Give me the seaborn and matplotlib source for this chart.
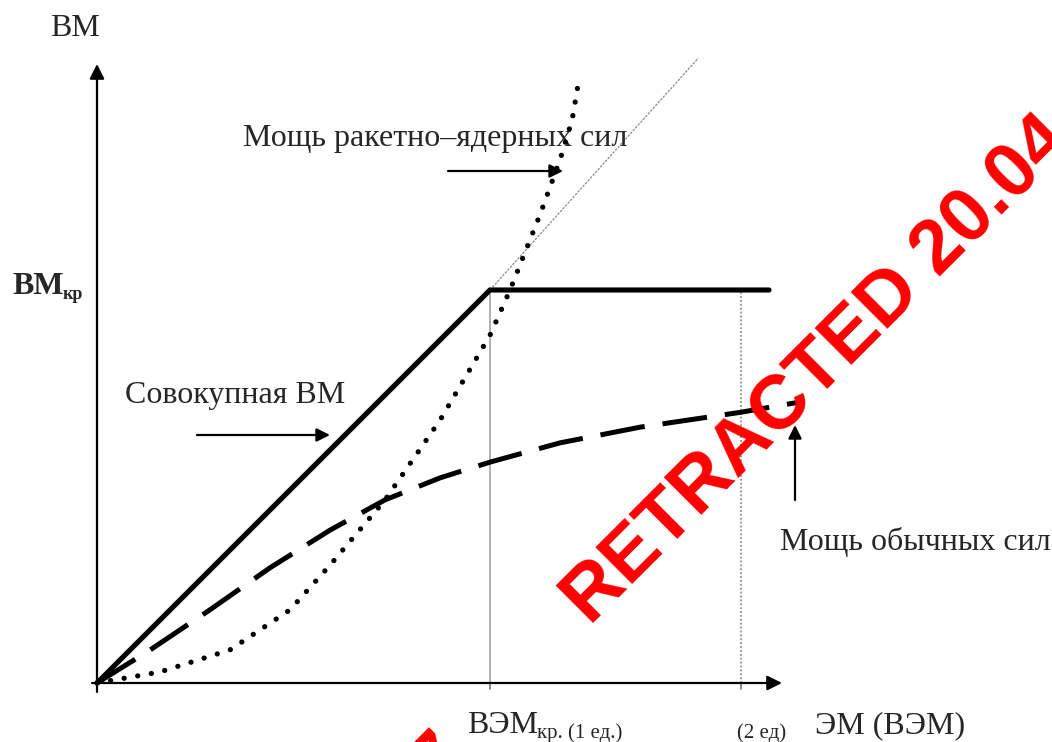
import matplotlib
matplotlib.use("Agg")
import matplotlib.pyplot as plt
import seaborn as sns

# ---------------- data (units: arbitrary, ВЭМкр = 10, ВМкр = 10) ----------------
em_total = [0.0, 10.0, 17.1]
vm_total = [0.0, 10.0, 10.0]

em_ext = [10.0, 15.3]
vm_ext = [10.0, 15.9]

em_nuc = [0.0, 1.60, 3.38, 4.91, 5.93, 7.33, 8.73, 10.0, 10.51, 11.27, 11.78, 12.09, 12.24]
vm_nuc = [0.0, 0.28, 0.84, 1.86, 3.00, 4.66, 6.69, 8.85, 10.0, 11.91, 13.31, 14.33, 15.22]

em_conv = [0.0, 1.35, 2.87, 4.40, 5.93, 7.33, 8.73, 10.0, 11.78, 13.82, 16.39, 17.89]
vm_conv = [0.0, 0.84, 1.86, 2.93, 3.89, 4.66, 5.22, 5.62, 6.11, 6.51, 6.89, 7.15]

em_marks = [10.0, 16.39]
vm_crit = 10.0

x_labels = ["ВЭМ", "кр. (1 ед.)", "(2 ед)", "ЭМ (ВЭМ)"]
y_labels = ["ВМ", "ВМ", "кр"]
curve_labels = ["Мощь ракетно–ядерных сил", "Совокупная ВМ", "Мощь обычных сил"]
watermark = "RETRACTED 20.04.2017"

# ---------------- layout ----------------
W, H = 1052, 742
X0, Y0 = 97, 683
S = 39.3

def P(px, py):
    return ((px - X0) / S, (Y0 - py) / S)

sns.set_style("white")
plt.rcParams["font.family"] = ["Liberation Serif", "DejaVu Serif"]

fig = plt.figure(figsize=(W / 100, H / 100), dpi=100)
ax = fig.add_axes([0, 0, 1, 1])
ax.set_xlim(-X0 / S, (W - X0) / S)
ax.set_ylim(-(H - Y0) / S, Y0 / S)
ax.axis("off")

# reference vertical lines
ax.plot([em_marks[0], em_marks[0]], [0, vm_crit], color="#b0b0b0", lw=1.4, zorder=1)
ax.plot([em_marks[1], em_marks[1]], [0, vm_crit], color="#9a9a9a", lw=1.4,
        linestyle=(0, (1, 1)), zorder=1)

# thin extension of the diagonal
sns.lineplot(x=em_ext, y=vm_ext, sort=False, estimator=None, color="#8a8a8a",
             lw=0.9, linestyle=(0, (2, 1)), ax=ax)

# axes with arrows
arrow_kw = dict(arrowstyle="-|>", mutation_scale=22, lw=1.6, color="black",
                shrinkA=0, shrinkB=0)
ax.annotate("", xy=P(97, 64), xytext=P(97, 692), arrowprops=arrow_kw)
ax.annotate("", xy=P(782, 683), xytext=P(92, 683), arrowprops=arrow_kw)
for xm in em_marks:
    ax.plot([xm, xm], [0, -0.15], color="#777777", lw=1.2)

# curves
sns.lineplot(x=em_total, y=vm_total, sort=False, estimator=None, color="black",
             lw=3.7, ax=ax, solid_joinstyle="miter", zorder=5)
sns.lineplot(x=em_conv, y=vm_conv, sort=False, estimator=None, color="black",
             lw=3.6, linestyle=(0, (9, 3.6)), ax=ax, zorder=4)
sns.lineplot(x=em_nuc, y=vm_nuc, sort=False, estimator=None, color="black",
             lw=3.8, linestyle=(0, (0.01, 2.6)), dash_capstyle="round", ax=ax, zorder=4)

# labels
fs = 23
sub = 15
ax.text(*P(50, 36), y_labels[0], fontsize=fs, ha="left", va="baseline")
ax.text(*P(12, 294), y_labels[1], fontsize=fs, fontweight="bold", ha="left", va="baseline")
ax.text(*P(63, 299), y_labels[2], fontsize=13, fontweight="bold", ha="left", va="baseline")

ax.text(*P(467, 733), x_labels[0], fontsize=fs, ha="left", va="baseline")
ax.text(*P(537, 738), x_labels[1], fontsize=sub, ha="left", va="baseline")
ax.text(*P(737, 738), x_labels[2], fontsize=sub, ha="left", va="baseline")
ax.text(*P(815, 733), x_labels[3], fontsize=fs, ha="left", va="baseline")

ax.text(*P(243, 146), curve_labels[0], fontsize=fs, ha="left", va="baseline")
ax.text(*P(125, 403), curve_labels[1], fontsize=fs, ha="left", va="baseline")
ax.text(*P(780, 550), curve_labels[2], fontsize=fs, ha="left", va="baseline")

pointer_kw = dict(arrowstyle="-|>", mutation_scale=20, lw=1.6, color="black",
                  shrinkA=0, shrinkB=0)
ax.annotate("", xy=P(563, 171), xytext=P(448, 171), arrowprops=pointer_kw)
ax.annotate("", xy=P(330, 435), xytext=P(197, 435), arrowprops=pointer_kw)
ax.annotate("", xy=P(795, 425), xytext=P(795, 500), arrowprops=pointer_kw)

# watermark (main copy and the tip of a neighbouring copy at the bottom edge)
wm_kw = dict(fontsize=55, fontweight="bold", color="#ff0000", family="Liberation Sans",
             rotation=45, rotation_mode="anchor", va="baseline", zorder=10)
ax.text(*P(590, 626), watermark, ha="left", **wm_kw)
ax.text(*P(470, 762), watermark, ha="right", **wm_kw)

fig.savefig("out.png", dpi=100)
